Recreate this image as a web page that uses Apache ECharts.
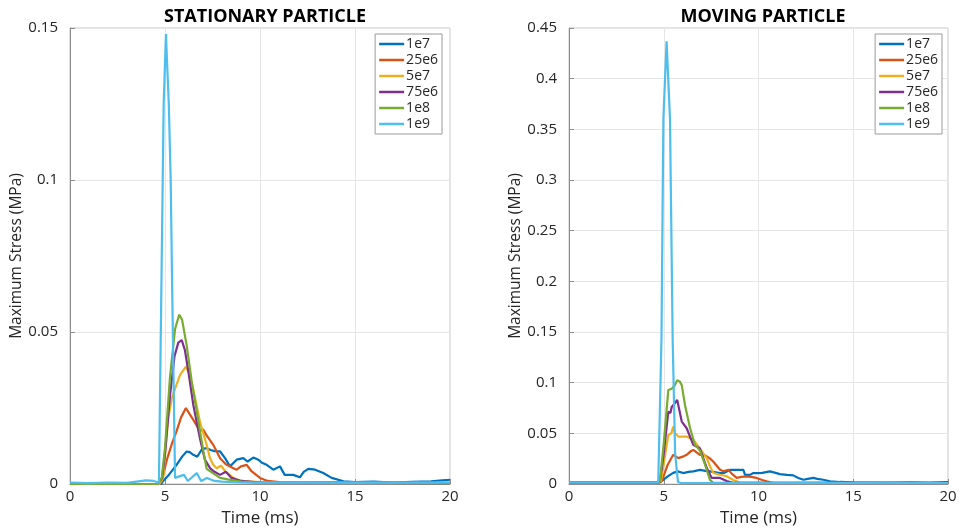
<!DOCTYPE html>
<html>
<head>
<meta charset="utf-8">
<script src="https://cdn.jsdelivr.net/npm/echarts@6/dist/echarts.min.js"></script>
<style>
  html, body { margin: 0; padding: 0; background: #fff; }
  #chart { width: 962px; height: 532px; }
</style>
</head>
<body>
<div id="chart"></div>
<script>
// legend names, same for both panels
const seriesNames = ['1e7', '25e6', '5e7', '75e6', '1e8', '1e9'];
const seriesColors = ['#0072BD', '#D95319', '#EDB120', '#7E2F8E', '#77AC30', '#4DBEEE'];

// x ticks (ms)
const timeTicks = [0, 5, 10, 15, 20];

// ---- stationary particle: [time ms, stress MPa]
const stat1e7 = [[0,0],[4.8,0],[4.9,0.001],[5.2,0.003],[5.61,0.0063],[5.9,0.009],[6.14,0.0107],[6.3,0.0105],[6.49,0.0096],[6.7,0.009],[6.95,0.0115],[7.19,0.0118],[7.4,0.0112],[7.6,0.0108],[7.9,0.0107],[8.16,0.0085],[8.42,0.0058],[8.77,0.008],[9.12,0.0085],[9.35,0.0074],[9.65,0.0087],[9.91,0.008],[10.1,0.007],[10.35,0.0063],[10.7,0.0047],[11.05,0.0058],[11.3,0.003],[11.75,0.003],[12.1,0.0022],[12.3,0.004],[12.54,0.005],[12.9,0.0047],[13.33,0.0036],[13.77,0.002],[14.4,0.0009],[15,0.0006],[16,0.0008],[17,0.0005],[18,0.0007],[19,0.0009],[19.6,0.0012],[20,0.0014]];
const stat25e6 = [[0,0],[4.7,0],[4.83,0.001],[5.1,0.008],[5.35,0.013],[5.61,0.0174],[5.85,0.022],[6.1,0.025],[6.25,0.0235],[6.5,0.021],[6.84,0.0174],[7.0,0.018],[7.19,0.016],[7.54,0.0129],[7.9,0.0085],[8.2,0.0065],[8.6,0.0052],[8.77,0.0047],[9.0,0.0058],[9.3,0.0063],[9.55,0.0042],[9.8,0.003],[10.0,0.002],[10.4,0.001],[11,0.0006],[20,0.0004]];
const stat5e7 = [[0,0],[4.7,0],[4.9,0.002],[5.17,0.0216],[5.35,0.028],[5.53,0.0314],[5.8,0.036],[6.1,0.0386],[6.3,0.036],[6.49,0.031],[6.84,0.0205],[7.19,0.0129],[7.37,0.0085],[7.54,0.0063],[7.72,0.0052],[7.95,0.006],[8.2,0.004],[8.6,0.002],[9,0.001],[10,0.0006],[20,0.0004]];
const stat75e6 = [[0,0],[4.6,0],[4.85,0.002],[5.0,0.01],[5.26,0.029],[5.5,0.042],[5.7,0.0465],[5.88,0.0473],[6.05,0.044],[6.23,0.037],[6.49,0.026],[6.84,0.015],[7.1,0.008],[7.37,0.0052],[7.6,0.004],[7.9,0.003],[8.2,0.004],[8.5,0.002],[9,0.001],[10,0.0005],[20,0.0003]];
const stat1e8 = [[0,0],[4.6,0],[4.83,0.002],[5.0,0.012],[5.26,0.035],[5.53,0.051],[5.75,0.0557],[5.9,0.054],[6.14,0.0456],[6.4,0.034],[6.67,0.0239],[7.02,0.0108],[7.19,0.005],[7.54,0.0035],[7.9,0.002],[8.3,0.0015],[9,0.0008],[10,0.0005],[20,0.0003]];
const stat1e9 = [[0,0.0005],[1,0.0003],[2,0.0005],[3,0.0004],[3.5,0.0008],[4,0.0012],[4.4,0.001],[4.68,0.0005],[4.8,0.06],[4.93,0.125],[5.05,0.148],[5.1,0.14],[5.2,0.125],[5.3,0.1],[5.37,0.0675],[5.53,0.002],[5.79,0.0026],[6.0,0.003],[6.2,0.001],[6.67,0.0036],[6.9,0.001],[7.2,0.002],[7.6,0.001],[8,0.0008],[9,0.0005],[10,0.0004],[12,0.0005],[15,0.0004],[20,0.0005]];

// ---- moving particle: [time ms, stress MPa]
const mov1e7 = [[0,0.0015],[4.8,0.0015],[4.9,0.002],[5.21,0.0075],[5.5,0.011],[5.74,0.0125],[6.03,0.0108],[6.3,0.012],[6.56,0.0125],[6.91,0.014],[7.2,0.013],[7.44,0.0125],[7.97,0.0108],[8.2,0.011],[8.5,0.014],[9.02,0.014],[9.2,0.014],[9.29,0.009],[9.55,0.009],[9.73,0.0108],[9.9,0.0108],[10.2,0.011],[10.6,0.0125],[10.9,0.011],[11.13,0.0098],[11.5,0.009],[11.84,0.0085],[12.1,0.006],[12.37,0.0042],[12.6,0.005],[12.9,0.006],[13.1,0.005],[13.42,0.0042],[13.77,0.0027],[14.3,0.002],[15,0.0017],[16,0.0015],[17,0.0015],[18,0.0017],[19,0.0015],[20,0.0018]];
const mov25e6 = [[0,0.0015],[4.7,0.0015],[4.9,0.003],[5.21,0.019],[5.5,0.0288],[5.77,0.0255],[6.0,0.027],[6.21,0.0288],[6.4,0.032],[6.56,0.0337],[6.75,0.031],[6.91,0.0288],[7.1,0.029],[7.27,0.0272],[7.45,0.025],[7.62,0.022],[7.97,0.014],[8.14,0.0125],[8.41,0.014],[8.6,0.01],[8.85,0.006],[9.1,0.007],[9.38,0.0075],[9.6,0.007],[9.9,0.006],[10.2,0.004],[10.43,0.0027],[10.78,0.001],[20,0.001]];
const mov5e7 = [[0,0.0015],[4.6,0.0015],[4.85,0.003],[5.0,0.02],[5.24,0.0484],[5.4,0.05],[5.5,0.0567],[5.6,0.05],[5.77,0.0468],[6.21,0.0468],[6.56,0.0435],[6.91,0.035],[7.27,0.0255],[7.45,0.017],[7.62,0.0108],[7.97,0.0091],[8.32,0.0076],[8.67,0.004],[9,0.0015],[20,0.001]];
const mov75e6 = [[0,0.0015],[4.6,0.0015],[4.8,0.003],[5.0,0.03],[5.24,0.0714],[5.35,0.07],[5.42,0.076],[5.6,0.08],[5.71,0.083],[5.8,0.075],[5.95,0.0616],[6.21,0.055],[6.56,0.0386],[6.91,0.035],[7.27,0.0157],[7.53,0.006],[7.97,0.006],[8.32,0.003],[8.6,0.0015],[20,0.001]];
const mov1e8 = [[0,0.0015],[4.6,0.0015],[4.8,0.003],[5.0,0.04],[5.24,0.0927],[5.42,0.094],[5.59,0.0976],[5.71,0.1025],[5.85,0.101],[5.95,0.0976],[6.12,0.078],[6.39,0.055],[6.65,0.0386],[6.91,0.033],[7.18,0.019],[7.44,0.004],[7.6,0.0015],[20,0.001]];
const mov1e9 = [[0,0.0015],[4.5,0.0015],[4.71,0.002],[4.88,0.143],[4.98,0.36],[5.15,0.437],[5.33,0.36],[5.47,0.143],[5.6,0.03],[5.75,0.002],[5.9,0.001],[20,0.001]];

const statData = [stat1e7, stat25e6, stat5e7, stat75e6, stat1e8, stat1e9];
const movData = [mov1e7, mov25e6, mov5e7, mov75e6, mov1e8, mov1e9];

const font = '"Open Sans", "DejaVu Sans", sans-serif';
const axisGray = '#8c8c8c';
const txt = '#262626';

function xAxisFor(gridIndex) {
    return {
        type: 'value', gridIndex: gridIndex,
        min: 0, max: 20, interval: 5,
        name: 'Time (ms)', nameLocation: 'middle', nameGap: 26,
        nameTextStyle: { fontFamily: font, fontSize: 17, color: txt },
        axisLine: { show: true, lineStyle: { color: axisGray, width: 1 } },
        axisTick: { show: true, inside: true, length: 5, lineStyle: { color: axisGray } },
        axisLabel: { fontFamily: font, fontSize: 15, color: txt, margin: 5 },
        splitLine: { show: true, lineStyle: { color: '#e6e6e6', width: 1 } }
    };
}

function yAxisFor(gridIndex, max) {
    return {
        type: 'value', gridIndex: gridIndex,
        min: 0, max: max, interval: 0.05,
        name: 'Maximum Stress (MPa)', nameLocation: 'middle', nameGap: 45,
        nameTextStyle: { fontFamily: font, fontSize: 15.5, color: txt },
        axisLine: { show: true, lineStyle: { color: axisGray, width: 1 } },
        axisTick: { show: true, inside: true, length: 5, lineStyle: { color: axisGray } },
        axisLabel: {
            fontFamily: font, fontSize: 15, color: txt, margin: 12,
            formatter: function (v) { return String(parseFloat(v.toFixed(2))); }
        },
        splitLine: { show: true, lineStyle: { color: '#e6e6e6', width: 1 } }
    };
}

function legendFor(right) {
    return {
        orient: 'vertical', right: right, top: 34,
        data: seriesNames,
        icon: 'rect', itemWidth: 25, itemHeight: 2.5, itemGap: 2,
        padding: [3, 4, 3, 4],
        borderColor: '#9a9a9a', borderWidth: 1, backgroundColor: '#fff',
        textStyle: { fontFamily: font, fontSize: 14, color: txt, padding: [0, 0, 0, -3] }
    };
}

function buildSeries(panelData, idx) {
    return panelData.map(function (pts, i) {
        return {
            name: seriesNames[i], type: 'line',
            xAxisIndex: idx, yAxisIndex: idx,
            data: pts, showSymbol: false, symbol: 'none',
            lineStyle: { color: seriesColors[i], width: 2.2 },
            itemStyle: { color: seriesColors[i] },
            animation: false, z: 2 + i
        };
    });
}

const chart = echarts.init(document.getElementById('chart'), null, { renderer: 'canvas' });
chart.setOption({
    animation: false,
    backgroundColor: '#fff',
    title: [
        { text: 'STATIONARY PARTICLE', left: 260, top: 3, textAlign: 'center',
          textStyle: { fontFamily: font, fontSize: 18, fontWeight: 'bold', color: '#000' } },
        { text: 'MOVING PARTICLE', left: 758, top: 3, textAlign: 'center',
          textStyle: { fontFamily: font, fontSize: 18, fontWeight: 'bold', color: '#000' } }
    ],
    grid: [
        { left: 70, top: 28, width: 380, height: 458, show: true, borderColor: '#c4c4c4', borderWidth: 1 },
        { left: 569, top: 28, width: 379, height: 458, show: true, borderColor: '#c4c4c4', borderWidth: 1 }
    ],
    xAxis: [xAxisFor(0), xAxisFor(1)],
    yAxis: [yAxisFor(0, 0.15), yAxisFor(1, 0.45)],
    legend: [legendFor(520), legendFor(20)],
    series: buildSeries(statData, 0).concat(buildSeries(movData, 1))
});
</script>
</body>
</html>
